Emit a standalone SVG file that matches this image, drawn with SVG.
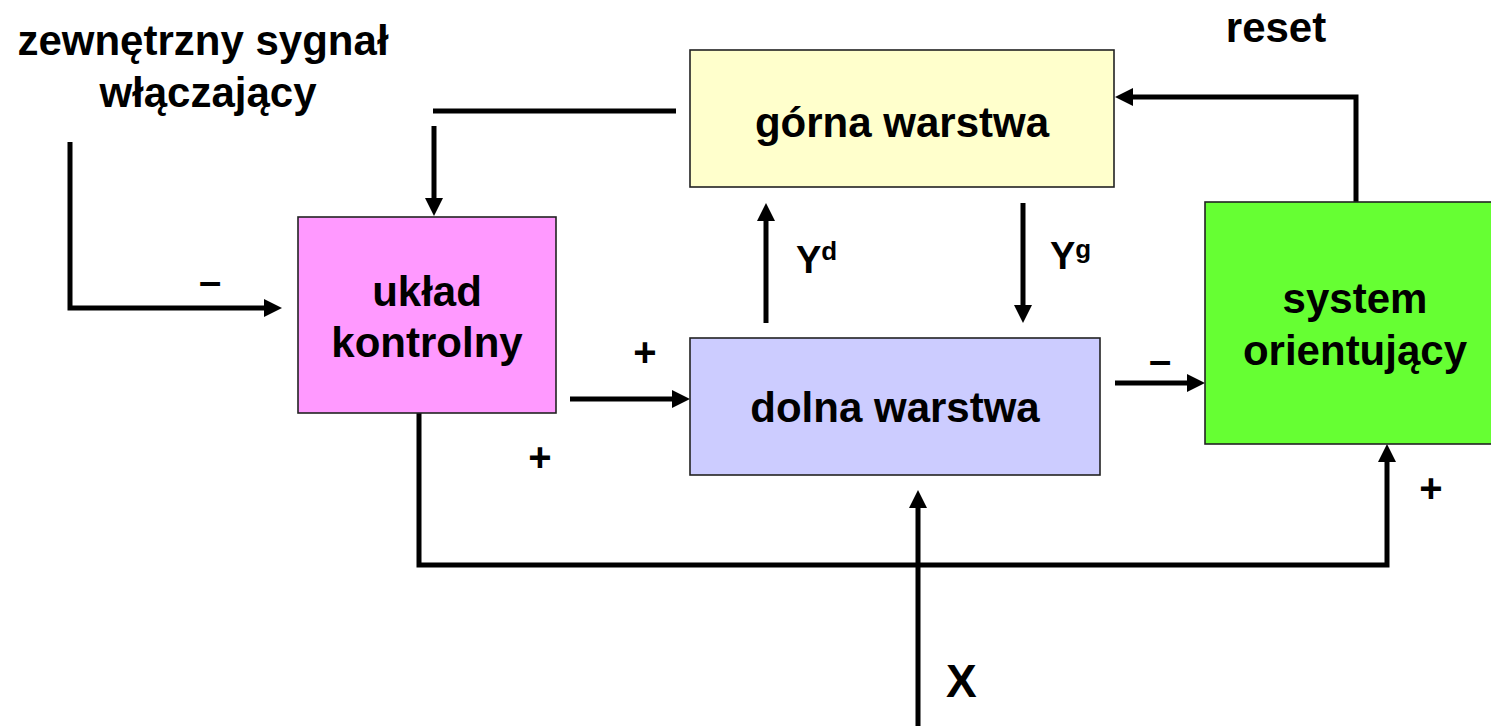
<svg xmlns="http://www.w3.org/2000/svg" width="1491" height="726" viewBox="0 0 1491 726">
<style>
text{font-family:"Liberation Sans",Arial,sans-serif;font-weight:bold;fill:#000}
.lbl{font-size:42px;text-anchor:middle}
.box{stroke:#222;stroke-width:1.6}
.wire{stroke:#000;stroke-width:5;fill:none}
.arr{marker-end:url(#ah)}
.sign{font-size:40px;text-anchor:middle}
</style>
<defs>
<marker id="ah" markerUnits="userSpaceOnUse" viewBox="0 0 18 18" refX="2" refY="9" markerWidth="18" markerHeight="18" orient="auto">
<path d="M0,0 L18,9 L0,18 z" fill="#000"/>
</marker>
</defs>
<rect width="1491" height="726" fill="#fff"/>
<g id="connectors">
<polyline class="wire arr" points="70,142 70,308 266,308"/>
<line class="wire" x1="433" y1="111" x2="676" y2="111"/>
<line class="wire arr" x1="434" y1="126" x2="434" y2="200"/>
<line class="wire arr" x1="766" y1="323" x2="766" y2="219"/>
<line class="wire arr" x1="1023" y1="203" x2="1023" y2="307"/>
<polyline class="wire arr" points="1356,202 1356,97 1131,97"/>
<line class="wire arr" x1="570" y1="399" x2="674" y2="399"/>
<line class="wire arr" x1="1115" y1="383" x2="1189" y2="383"/>
<polyline class="wire arr" points="419,413 419,565 1387,565 1387,460"/>
<line class="wire arr" x1="918" y1="726" x2="918" y2="506"/>
</g>
<g id="gorna">
<rect class="box" x="690" y="50" width="424" height="137" fill="#FFFFCC"/>
<text class="lbl" x="902" y="137">górna warstwa</text>
</g>
<g id="dolna">
<rect class="box" x="690" y="338" width="410" height="137" fill="#CCCCFF"/>
<text class="lbl" x="895" y="422">dolna warstwa</text>
</g>
<g id="uklad">
<rect class="box" x="298" y="217" width="258" height="196" fill="#FF99FF"/>
<text class="lbl" x="427" y="306">układ</text>
<text class="lbl" x="427" y="357">kontrolny</text>
</g>
<g id="system">
<rect class="box" x="1205" y="202" width="290" height="242" fill="#66FF33"/>
<text class="lbl" x="1355" y="313">system</text>
<text class="lbl" x="1355" y="365">orientujący</text>
</g>
<g id="labels">
<text class="lbl" x="203" y="55">zewnętrzny sygnał</text>
<text class="lbl" x="208" y="107">włączający</text>
<text class="lbl" x="1276" y="42">reset</text>
<text x="796" y="273" font-size="38">Y<tspan font-size="26" dy="-13">d</tspan></text>
<text x="1050" y="269" font-size="38">Y<tspan font-size="26" dy="-11">g</tspan></text>
<text x="946" y="697" font-size="46">X</text>
<text class="sign" x="210" y="295">–</text>
<text class="sign" x="1160" y="374">–</text>
<text class="sign" x="645" y="366">+</text>
<text class="sign" x="540" y="471">+</text>
<text class="sign" x="1431" y="502">+</text>
</g>
</svg>
